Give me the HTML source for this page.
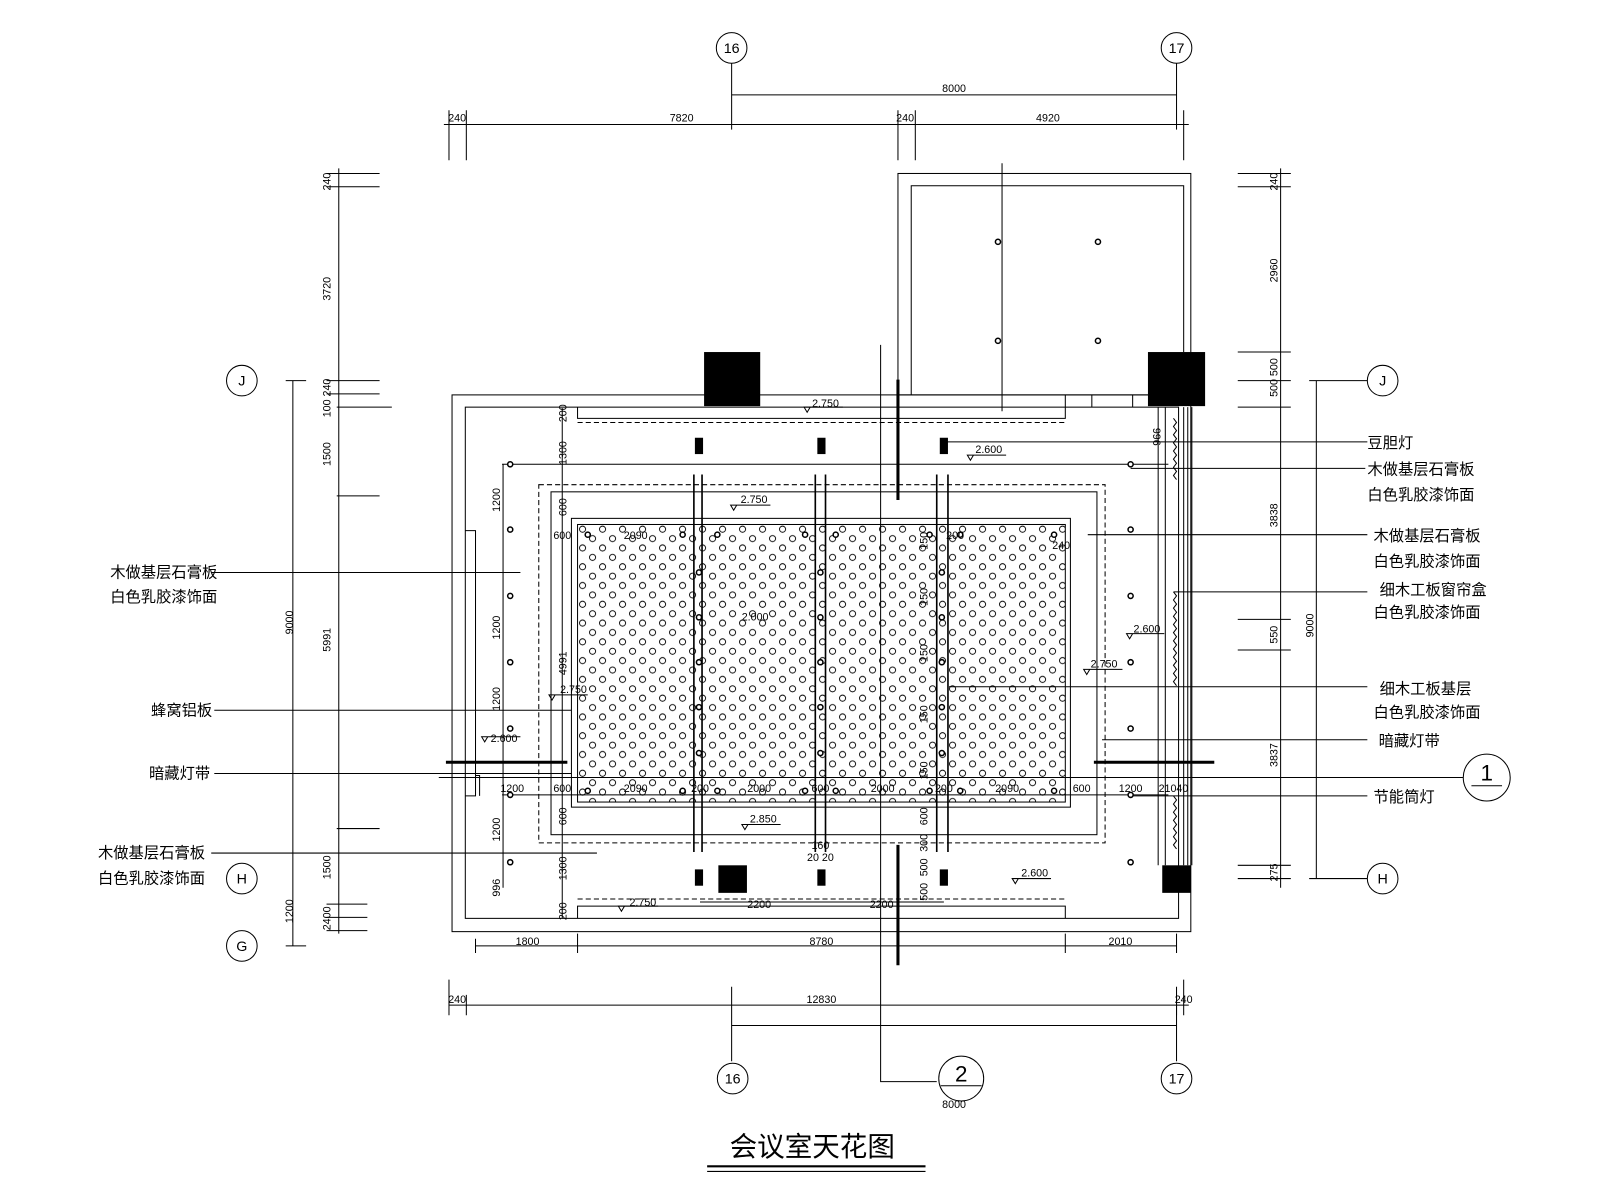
<!DOCTYPE html>
<html><head><meta charset="utf-8"><style>
html,body{margin:0;padding:0;background:#fff;}
svg{display:block;}
text{font-family:"Liberation Sans","Noto Sans CJK SC",sans-serif;fill:#000;}
.d{font-size:10.5px;}
.c{font-size:15px;}
</style></head><body>
<svg width="1600" height="1200" viewBox="0 0 1568 1176" xmlns="http://www.w3.org/2000/svg">
<defs>
<pattern id="hex" x="566" y="514" width="19.6" height="18.4" patternUnits="userSpaceOnUse">
<circle cx="4.9" cy="4.6" r="3" fill="none" stroke="#000" stroke-width="0.9"/>
<circle cx="14.7" cy="13.8" r="3" fill="none" stroke="#000" stroke-width="0.9"/>
</pattern>
</defs>
<rect width="1568" height="1176" fill="#fff"/>
<g stroke="#000" stroke-width="1" fill="none">
<!-- grid bubbles -->
<circle cx="717" cy="47" r="15"/><circle cx="1153" cy="47" r="15"/>
<circle cx="718" cy="1057" r="15"/><circle cx="1153" cy="1057" r="15"/>
<circle cx="942" cy="1057" r="22"/><line x1="922" y1="1064" x2="962" y2="1064"/>
<circle cx="237" cy="373" r="15"/><circle cx="1355" cy="373" r="15"/>
<circle cx="237" cy="861" r="15"/><circle cx="1355" cy="861" r="15"/>
<circle cx="237" cy="927" r="15"/>
<circle cx="1457" cy="762" r="23"/><line x1="1442" y1="770" x2="1472" y2="770"/>
<!-- top dims -->
<line x1="717" y1="62" x2="717" y2="127"/><line x1="1153" y1="62" x2="1153" y2="127"/>
<line x1="717" y1="93" x2="1153" y2="93"/>
<line x1="435" y1="122" x2="1165" y2="122"/>
<path d="M440 108V157M457 108V157M880 108V157M897 108V157M1160 108V157"/>
<!-- upper room -->
<rect x="880" y="170" width="287" height="217"/>
<path d="M893 387V182H1160V345"/>
<line x1="982" y1="160" x2="982" y2="403"/>
<!-- main -->
<rect x="443" y="387" width="724" height="526"/>
<rect x="456" y="399" width="699" height="501"/>
<path d="M566 399V410H1044V399M566 900V888H1044V900"/>
<line x1="566" y1="414" x2="1044" y2="414" stroke-dasharray="5 3"/>
<line x1="566" y1="881" x2="1044" y2="881" stroke-dasharray="5 3"/>
<path d="M1044 387V399M1070 387V399M1110 387V399"/>
<rect x="528" y="475" width="555" height="351" stroke-dasharray="5 3"/>
<rect x="540" y="482" width="535" height="336"/>
<rect x="560" y="508" width="489" height="283"/>
<rect x="566" y="514" width="478" height="272" fill="url(#hex)"/>
<path d="M456 520H466V780H456M466 760H470V780"/>
<!-- light bars -->
<path d="M680 465V835M688 465V835M799 465V835M809 465V835M918 465V835M929 465V835" stroke-width="1.6"/>
<!-- section lines -->
<path d="M880 372V490M880 828V946M437 747H556M1072 747H1190" stroke-width="3"/>
<path d="M863 338V1060H918"/>
<line x1="430" y1="762" x2="1434" y2="762"/>
<!-- curtain box -->
<path d="M1135 399V848M1142 399V848M1160 399V848M1164 399V848M1168 399V848"/>
<path d="M1150 410 l3 4 -3 4 3 4 -3 4 3 4 -3 4 3 4 -3 4 3 4 -3 4 3 4 -3 4 3 4 -3 4 3 4" />
<path d="M1150 580 l3 4 -3 4 3 4 -3 4 3 4 -3 4 3 4 -3 4 3 4 -3 4 3 4 -3 4 3 4 -3 4 3 4 -3 4 3 4 -3 4 3 4 -3 4 3 4 -3 4 3 4"/>
<path d="M1150 780 l3 4 -3 4 3 4 -3 4 3 4 -3 4 3 4 -3 4 3 4 -3 4 3 4 -3 4 3 4"/>
<!-- dim leader lines inside -->
<line x1="492" y1="455" x2="1145" y2="455"/>
<line x1="492" y1="779" x2="1145" y2="779"/>
<line x1="493" y1="455" x2="493" y2="870"/>
<line x1="551" y1="400" x2="551" y2="900"/>
<line x1="686" y1="884" x2="925" y2="884"/>
<!-- left dims -->
<line x1="332" y1="165" x2="332" y2="915"/>
<path d="M320 170H372M320 183H372M320 373H372M320 386H372M330 399H384M330 486H372M330 812H372M320 886H360M320 899H360M320 912H360"/>
<line x1="287" y1="373" x2="287" y2="927"/>
<path d="M280 373H300M280 927H300"/>
<!-- right dims -->
<line x1="1255" y1="165" x2="1255" y2="870"/>
<path d="M1213 170H1265M1213 183H1265M1213 345H1265M1213 373H1265M1213 399H1265M1213 607H1265M1213 637H1265M1213 848H1265M1213 861H1265"/>
<line x1="1290" y1="373" x2="1290" y2="861"/>
<path d="M1283 373H1340M1283 861H1340"/>
<!-- bottom dims -->
<line x1="466" y1="927" x2="1153" y2="927"/>
<path d="M466 920V934M566 915V934M1044 915V934M1153 915V934"/>
<line x1="440" y1="985" x2="1165" y2="985"/>
<path d="M440 960V995M1160 960V995M457 975V995M1153 975V995"/>
<line x1="717" y1="1005" x2="1153" y2="1005"/>
<path d="M717 967V1040M1153 967V1040"/>
<!-- label leaders -->
<path d="M207 561H510M210 696H560M210 758H560M207 836H585"/>
<path d="M925 433H1340M1108 459H1338M1066 524H1340M1150 580H1340M930 673H1340M1080 725H1340M1110 780H1340"/>
<!-- title underline -->
<path d="M693 1143H907" stroke-width="2"/><path d="M693 1148H907"/>
<!-- elevation marks -->
<path d="M788 399l3 5 3 -5zM791 399H826M716 495l3 5 3 -5zM719 495H755M948 446l3 5 3 -5zM951 446H986M472 722l3 5 3 -5zM475 722H510M538 681l3 5 3 -5zM541 681H576M1104 621l3 5 3 -5zM1107 621H1141M1062 656l3 5 3 -5zM1065 656H1100M727 808l3 5 3 -5zM730 808H765M992 861l3 5 3 -5zM995 861H1030M606 888l3 5 3 -5zM609 888H645"/>
</g>
<!-- black fills -->
<g fill="#000">
<rect x="690" y="345" width="55" height="53"/>
<rect x="1125" y="345" width="56" height="53"/>
<rect x="1139" y="848" width="28" height="27"/>
<rect x="704" y="848" width="28" height="27"/>
<rect x="681" y="429" width="8" height="16"/><rect x="801" y="429" width="8" height="16"/><rect x="921" y="429" width="8" height="16"/>
<rect x="681" y="852" width="8" height="16"/><rect x="801" y="852" width="8" height="16"/><rect x="921" y="852" width="8" height="16"/>
</g>
<g fill="#fff" stroke="#000" stroke-width="1.5">
<circle cx="978" cy="237" r="2.5"/><circle cx="1076" cy="237" r="2.5"/><circle cx="978" cy="334" r="2.5"/><circle cx="1076" cy="334" r="2.5"/>
<circle cx="500" cy="455" r="2.5"/><circle cx="500" cy="519" r="2.5"/><circle cx="500" cy="584" r="2.5"/><circle cx="500" cy="649" r="2.5"/><circle cx="500" cy="714" r="2.5"/><circle cx="500" cy="779" r="2.5"/><circle cx="500" cy="845" r="2.5"/>
<circle cx="1108" cy="455" r="2.5"/><circle cx="1108" cy="519" r="2.5"/><circle cx="1108" cy="584" r="2.5"/><circle cx="1108" cy="649" r="2.5"/><circle cx="1108" cy="714" r="2.5"/><circle cx="1108" cy="779" r="2.5"/><circle cx="1108" cy="845" r="2.5"/>
<circle cx="685" cy="561" r="2.5"/><circle cx="685" cy="605" r="2.5"/><circle cx="685" cy="649" r="2.5"/><circle cx="685" cy="693" r="2.5"/><circle cx="685" cy="738" r="2.5"/>
<circle cx="804" cy="561" r="2.5"/><circle cx="804" cy="605" r="2.5"/><circle cx="804" cy="649" r="2.5"/><circle cx="804" cy="693" r="2.5"/><circle cx="804" cy="738" r="2.5"/>
<circle cx="923" cy="561" r="2.5"/><circle cx="923" cy="605" r="2.5"/><circle cx="923" cy="649" r="2.5"/><circle cx="923" cy="693" r="2.5"/><circle cx="923" cy="738" r="2.5"/>
<circle cx="576" cy="524" r="2.5"/><circle cx="669" cy="524" r="2.5"/><circle cx="703" cy="524" r="2.5"/><circle cx="789" cy="524" r="2.5"/><circle cx="819" cy="524" r="2.5"/><circle cx="911" cy="524" r="2.5"/><circle cx="941" cy="524" r="2.5"/><circle cx="1033" cy="524" r="2.5"/>
<circle cx="576" cy="775" r="2.5"/><circle cx="669" cy="775" r="2.5"/><circle cx="703" cy="775" r="2.5"/><circle cx="789" cy="775" r="2.5"/><circle cx="819" cy="775" r="2.5"/><circle cx="911" cy="775" r="2.5"/><circle cx="941" cy="775" r="2.5"/><circle cx="1033" cy="775" r="2.5"/>
</g>
<!-- bubble text -->
<g font-size="14" text-anchor="middle">
<text x="717" y="52">16</text><text x="1153" y="52">17</text>
<text x="718" y="1062">16</text><text x="1153" y="1062">17</text>
<text x="237" y="378">J</text><text x="1355" y="378">J</text>
<text x="237" y="866">H</text><text x="1355" y="866">H</text><text x="237" y="932">G</text>
<text x="942" y="1060" font-size="22">2</text>
<text x="1457" y="765" font-size="22">1</text>
</g>
<text x="935" y="1086" class="d" text-anchor="middle">8000</text>
<!-- dims text -->
<g class="d" text-anchor="middle">
<text x="935" y="90">8000</text>
<text x="448" y="119">240</text><text x="668" y="119">7820</text><text x="887" y="119">240</text><text x="1027" y="119">4920</text>
<text x="517" y="926">1800</text><text x="805" y="926">8780</text><text x="1098" y="926">2010</text>
<text x="448" y="983">240</text><text x="805" y="983">12830</text><text x="1160" y="983">240</text>
<text x="502" y="776">1200</text><text x="551" y="776">600</text><text x="623" y="776">2090</text><text x="686" y="776">200</text><text x="744" y="776">2000</text><text x="804" y="776">600</text><text x="865" y="776">2000</text><text x="925" y="776">200</text><text x="987" y="776">2090</text><text x="1060" y="776">600</text><text x="1108" y="776">1200</text><text x="1150" y="776">21040</text>
<text x="551" y="528">600</text><text x="623" y="528">2090</text><text x="936" y="528">200</text><text x="1040" y="538">240</text>
<text x="744" y="890">2200</text><text x="864" y="890">2200</text><text x="804" y="832">160</text><text x="804" y="844">20 20</text>
<text x="809" y="399">2.750</text><text x="739" y="493">2.750</text><text x="969" y="444">2.600</text><text x="494" y="727">2.600</text><text x="562" y="679">2.750</text><text x="1124" y="620">2.600</text><text x="1082" y="654">2.750</text><text x="748" y="806">2.850</text><text x="1014" y="859">2.600</text><text x="630" y="888">2.750</text><text x="740" y="608">2.000</text>
</g>
<g class="d" text-anchor="middle">
<text transform="translate(324,178) rotate(-90)">240</text>
<text transform="translate(324,283) rotate(-90)">3720</text>
<text transform="translate(324,390) rotate(-90)">100 240</text>
<text transform="translate(324,445) rotate(-90)">1500</text>
<text transform="translate(324,627) rotate(-90)">5991</text>
<text transform="translate(324,850) rotate(-90)">1500</text>
<text transform="translate(324,900) rotate(-90)">2400</text>
<text transform="translate(287,610) rotate(-90)">9000</text>
<text transform="translate(287,893) rotate(-90)">1200</text>
<text transform="translate(1252,178) rotate(-90)">240</text>
<text transform="translate(1252,265) rotate(-90)">2960</text>
<text transform="translate(1252,370) rotate(-90)">500 500</text>
<text transform="translate(1252,505) rotate(-90)">3838</text>
<text transform="translate(1252,622) rotate(-90)">550</text>
<text transform="translate(1252,740) rotate(-90)">3837</text>
<text transform="translate(1252,855) rotate(-90)">275</text>
<text transform="translate(1287,613) rotate(-90)">9000</text>
<text transform="translate(490,490) rotate(-90)">1200</text>
<text transform="translate(490,615) rotate(-90)">1200</text>
<text transform="translate(490,685) rotate(-90)">1200</text>
<text transform="translate(490,813) rotate(-90)">1200</text>
<text transform="translate(490,870) rotate(-90)">996</text>
<text transform="translate(555,405) rotate(-90)">200</text>
<text transform="translate(555,444) rotate(-90)">1300</text>
<text transform="translate(555,497) rotate(-90)">600</text>
<text transform="translate(555,650) rotate(-90)">4991</text>
<text transform="translate(555,800) rotate(-90)">600</text>
<text transform="translate(555,851) rotate(-90)">1300</text>
<text transform="translate(555,893) rotate(-90)">200</text>
<text transform="translate(1130,428) rotate(90)">996</text>
<text transform="translate(909,800) rotate(-90)">600</text>
<text transform="translate(909,826) rotate(-90)">300</text>
<text transform="translate(909,850) rotate(-90)">500</text>
<text transform="translate(909,874) rotate(-90)">500</text>
<text transform="translate(909,530) rotate(-90)">150</text>
<text transform="translate(909,585) rotate(-90)">150</text>
<text transform="translate(909,640) rotate(-90)">150</text>
<text transform="translate(909,700) rotate(-90)">150</text>
<text transform="translate(909,755) rotate(-90)">150</text>
</g>
<!-- labels -->
<g class="c">
<text x="108" y="566">木做基层石膏板</text><text x="108" y="590">白色乳胶漆饰面</text>
<text x="148" y="701">蜂窝铝板</text>
<text x="146" y="763">暗藏灯带</text>
<text x="96" y="841">木做基层石膏板</text><text x="96" y="866">白色乳胶漆饰面</text>
<text x="1340" y="439">豆胆灯</text>
<text x="1340" y="465">木做基层石膏板</text><text x="1340" y="490">白色乳胶漆饰面</text>
<text x="1346" y="530">木做基层石膏板</text><text x="1346" y="555">白色乳胶漆饰面</text>
<text x="1352" y="583">细木工板窗帘盒</text><text x="1346" y="605">白色乳胶漆饰面</text>
<text x="1352" y="680">细木工板基层</text><text x="1346" y="703">白色乳胶漆饰面</text>
<text x="1351" y="731">暗藏灯带</text>
<text x="1346" y="786">节能筒灯</text>
</g>
<text x="796" y="1133" font-size="27" text-anchor="middle">会议室天花图</text>
</svg>
</body></html>
